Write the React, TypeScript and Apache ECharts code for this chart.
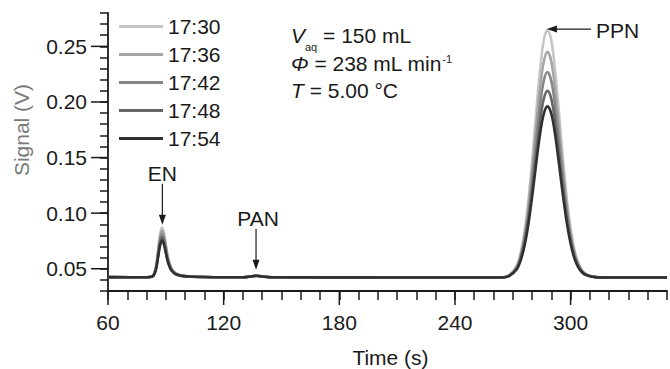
import React, { useEffect, useRef } from "react";
import * as echarts from "echarts";

// ---- data ----
const times = [60, 80, 83, 84, 85, 86, 87, 88, 89, 90, 91, 92, 93, 95, 98, 102, 110, 125,
  130, 134, 137, 140, 146, 200,
  264, 268, 272, 274, 276, 278, 280, 282, 284, 286, 288, 290, 292, 294, 296, 298, 300, 302, 304, 306, 308, 312, 318,
  350];

const seriesNames = ["17:30", "17:36", "17:42", "17:48", "17:54"];

const signal1730 = [0.0425, 0.0424, 0.0432, 0.0459, 0.0531, 0.0671, 0.0810, 0.0873, 0.0828, 0.0720, 0.0617, 0.0549, 0.0504, 0.0461, 0.0441, 0.0432, 0.0427, 0.0423,
  0.0423, 0.0432, 0.0440, 0.0432, 0.0423, 0.0422,
  0.0422, 0.0440, 0.0527, 0.0639, 0.0826, 0.1102, 0.1466, 0.1876, 0.2266, 0.2547, 0.2650, 0.2552, 0.2275, 0.1896, 0.1495, 0.1138, 0.0862, 0.0670, 0.0554, 0.0487, 0.0453, 0.0429, 0.0422,
  0.0422];
const signal1736 = [0.0425, 0.0424, 0.0431, 0.0457, 0.0524, 0.0654, 0.0784, 0.0843, 0.0801, 0.0700, 0.0604, 0.0541, 0.0499, 0.0459, 0.0440, 0.0431, 0.0426, 0.0423,
  0.0423, 0.0431, 0.0439, 0.0431, 0.0423, 0.0422,
  0.0422, 0.0438, 0.0517, 0.0619, 0.0789, 0.1041, 0.1372, 0.1746, 0.2101, 0.2357, 0.2450, 0.2361, 0.2109, 0.1764, 0.1398, 0.1074, 0.0822, 0.0647, 0.0542, 0.0481, 0.0450, 0.0428, 0.0422,
  0.0422];
const signal1742 = [0.0425, 0.0424, 0.0431, 0.0454, 0.0517, 0.0638, 0.0758, 0.0813, 0.0774, 0.0680, 0.0591, 0.0532, 0.0493, 0.0456, 0.0439, 0.0431, 0.0426, 0.0423,
  0.0423, 0.0431, 0.0438, 0.0431, 0.0423, 0.0422,
  0.0422, 0.0437, 0.0509, 0.0601, 0.0757, 0.0986, 0.1288, 0.1628, 0.1952, 0.2185, 0.2270, 0.2189, 0.1959, 0.1645, 0.1312, 0.1016, 0.0786, 0.0627, 0.0531, 0.0476, 0.0448, 0.0427, 0.0422,
  0.0422];
const signal1748 = [0.0425, 0.0424, 0.0430, 0.0452, 0.0509, 0.0621, 0.0733, 0.0783, 0.0747, 0.0661, 0.0578, 0.0524, 0.0488, 0.0454, 0.0437, 0.0430, 0.0426, 0.0423,
  0.0423, 0.0430, 0.0437, 0.0430, 0.0423, 0.0422,
  0.0422, 0.0435, 0.0501, 0.0585, 0.0726, 0.0934, 0.1208, 0.1517, 0.1811, 0.2023, 0.2100, 0.2026, 0.1818, 0.1532, 0.1230, 0.0961, 0.0753, 0.0608, 0.0521, 0.0470, 0.0445, 0.0427, 0.0422,
  0.0422];
const signal1754 = [0.0425, 0.0424, 0.0430, 0.0449, 0.0502, 0.0605, 0.0707, 0.0753, 0.0720, 0.0641, 0.0565, 0.0515, 0.0482, 0.0451, 0.0436, 0.0430, 0.0426, 0.0423,
  0.0423, 0.0430, 0.0436, 0.0430, 0.0423, 0.0422,
  0.0422, 0.0434, 0.0494, 0.0571, 0.0700, 0.0891, 0.1142, 0.1426, 0.1695, 0.1889, 0.1960, 0.1892, 0.1701, 0.1439, 0.1162, 0.0916, 0.0725, 0.0592, 0.0512, 0.0466, 0.0443, 0.0426, 0.0422,
  0.0422];

const allSignals = [signal1730, signal1736, signal1742, signal1748, signal1754];

const xMajorTicks = [60, 120, 180, 240, 300];
const yMajorTicks = [0.05, 0.1, 0.15, 0.2, 0.25];

// peak annotations: label, time, signal at arrow tip
const peakNames = ["EN", "PAN", "PPN"];
const peakTimes = [88.2, 136.8, 287.7];
const peakTips = [0.0895, 0.0491, 0.2655];

const colors = ["#c6c6c6", "#a6a6a6", "#878787", "#666666", "#303030"];
const FONT = "'Liberation Sans', Arial, Helvetica, sans-serif";
const INK = "#1a1a1a";

export default function App() {
  const ref = useRef<HTMLDivElement>(null);

  useEffect(() => {
    const chart = echarts.init(ref.current as HTMLDivElement, null, { renderer: "svg" });

    const series = seriesNames.map((name, i) => ({
      name,
      type: "line",
      data: times.map((t, k) => [t, allSignals[i][k]]),
      showSymbol: false,
      symbol: "none",
      smooth: 0.35,
      color: colors[i],
      itemStyle: { color: colors[i] },
      lineStyle: { color: colors[i], width: 2.6 },
      z: 2 + i,
    }));

    chart.setOption({
      animation: false,
      backgroundColor: "#ffffff",
      textStyle: { fontFamily: FONT },
      grid: { left: 108, right: 1, top: 13, bottom: 78 },
      legend: {
        data: seriesNames,
        orient: "vertical",
        left: 119,
        top: 16,
        padding: 0,
        icon: "rect",
        itemWidth: 44,
        itemHeight: 3,
        itemGap: 7,
        selectedMode: false,
        textStyle: { fontSize: 21, color: INK, fontFamily: FONT },
      },
      xAxis: {
        type: "value",
        min: 60,
        max: 350,
        interval: 10,
        axisLine: { show: true, lineStyle: { color: INK, width: 1.8 } },
        axisTick: { show: true, length: 9, lineStyle: { color: INK, width: 1.5 } },
        axisLabel: {
          fontSize: 21,
          color: INK,
          fontFamily: FONT,
          margin: 21,
          formatter: (v: number) => (xMajorTicks.includes(Math.round(v)) ? String(Math.round(v)) : ""),
        },
        splitLine: { show: false },
      },
      yAxis: {
        type: "value",
        min: 0.03,
        max: 0.28,
        interval: 0.01,
        axisLine: { show: true, lineStyle: { color: INK, width: 1.8 } },
        axisTick: { show: true, length: 8, lineStyle: { color: INK, width: 1.5 } },
        axisLabel: {
          fontSize: 21,
          color: INK,
          fontFamily: FONT,
          margin: 21,
          formatter: (v: number) => {
            const k = Math.round(v * 100);
            return yMajorTicks.some((m) => Math.round(m * 100) === k) ? (k / 100).toFixed(2) : "";
          },
        },
        splitLine: { show: false },
      },
      series,
    });

    const px = (t: number, v: number) => chart.convertToPixel({ gridIndex: 0 }, [t, v]) as number[];
    const graphics: any[] = [];
    const tickStyle = { stroke: INK, lineWidth: 1.5 };

    yMajorTicks.forEach((v) => {
      const [x, y] = px(60, v);
      graphics.push({ type: "line", shape: { x1: x - 17, y1: y, x2: x, y2: y }, style: tickStyle, z: 10 });
    });
    xMajorTicks.forEach((t) => {
      const [x, y] = px(t, 0.03);
      graphics.push({ type: "line", shape: { x1: x, y1: y, x2: x, y2: y + 14 }, style: tickStyle, z: 10 });
    });

    // axis titles
    graphics.push({
      type: "text",
      x: 21,
      y: 130,
      rotation: Math.PI / 2,
      style: { text: "Signal (V)", fill: "#7a7a7a", fontSize: 21, fontFamily: FONT, align: "center", verticalAlign: "middle" },
    });
    const [xa0] = px(60, 0.03);
    const [xa1, ya] = px(350, 0.03);
    graphics.push({
      type: "text",
      x: (xa0 + xa1) / 2 + 3,
      y: ya + 66,
      style: { text: "Time (s)", fill: INK, fontSize: 21, fontFamily: FONT, align: "center", verticalAlign: "middle" },
    });

    // peak arrows and labels
    const arrowStyle = { stroke: INK, lineWidth: 1.2 };
    peakNames.forEach((name, i) => {
      const [x, y] = px(peakTimes[i], peakTips[i]);
      if (name === "PPN") {
        graphics.push({ type: "line", shape: { x1: x + 8, y1: y, x2: x + 44, y2: y }, style: arrowStyle, z: 12 });
        graphics.push({ type: "polygon", shape: { points: [[x, y], [x + 10, y - 3.5], [x + 10, y + 3.5]] }, style: { fill: INK }, z: 12 });
        graphics.push({
          type: "text", x: x + 49, y: y + 1,
          style: { text: name, fill: INK, fontSize: 21, fontFamily: FONT, align: "left", verticalAlign: "middle" }, z: 12,
        });
      } else {
        graphics.push({ type: "line", shape: { x1: x, y1: y - 8, x2: x, y2: y - 41 }, style: arrowStyle, z: 12 });
        graphics.push({ type: "polygon", shape: { points: [[x, y], [x - 3.5, y - 10], [x + 3.5, y - 10]] }, style: { fill: INK }, z: 12 });
        graphics.push({
          type: "text", x: name === "PAN" ? x + 2 : x, y: y - 51,
          style: { text: name, fill: INK, fontSize: 21, fontFamily: FONT, align: "center", verticalAlign: "middle" }, z: 12,
        });
      }
    });

    // conditions text
    const baseRich = {
      n: { fontSize: 21, fontFamily: FONT, fill: INK, lineHeight: 21, verticalAlign: "top" },
      i: { fontSize: 21, fontFamily: FONT, fill: INK, fontStyle: "italic", lineHeight: 21, verticalAlign: "top" },
      sub: { fontSize: 11, fontFamily: FONT, fill: INK, lineHeight: 27, verticalAlign: "bottom" },
      sup: { fontSize: 11, fontFamily: FONT, fill: INK, lineHeight: 13, verticalAlign: "top" },
    };
    const condLines = ["{i|V}{sub|aq}{n| = 150 mL}", "{i|Φ}{n| = 238 mL min}{sup|-1}", "{i|T}{n| = 5.00 °C}"];
    const condY = [25, 53, 80];
    condLines.forEach((txt, i) => {
      graphics.push({
        type: "text",
        x: 291,
        y: condY[i],
        style: { text: txt, rich: baseRich, align: "left", verticalAlign: "top", fontSize: 21, fontFamily: FONT },
        z: 12,
      });
    });

    chart.setOption({ graphic: graphics });

    return () => chart.dispose();
  }, []);

  return <div ref={ref} style={{ position: "fixed", left: 0, top: 0, width: 670, height: 369, background: "#fff" }} />;
}
